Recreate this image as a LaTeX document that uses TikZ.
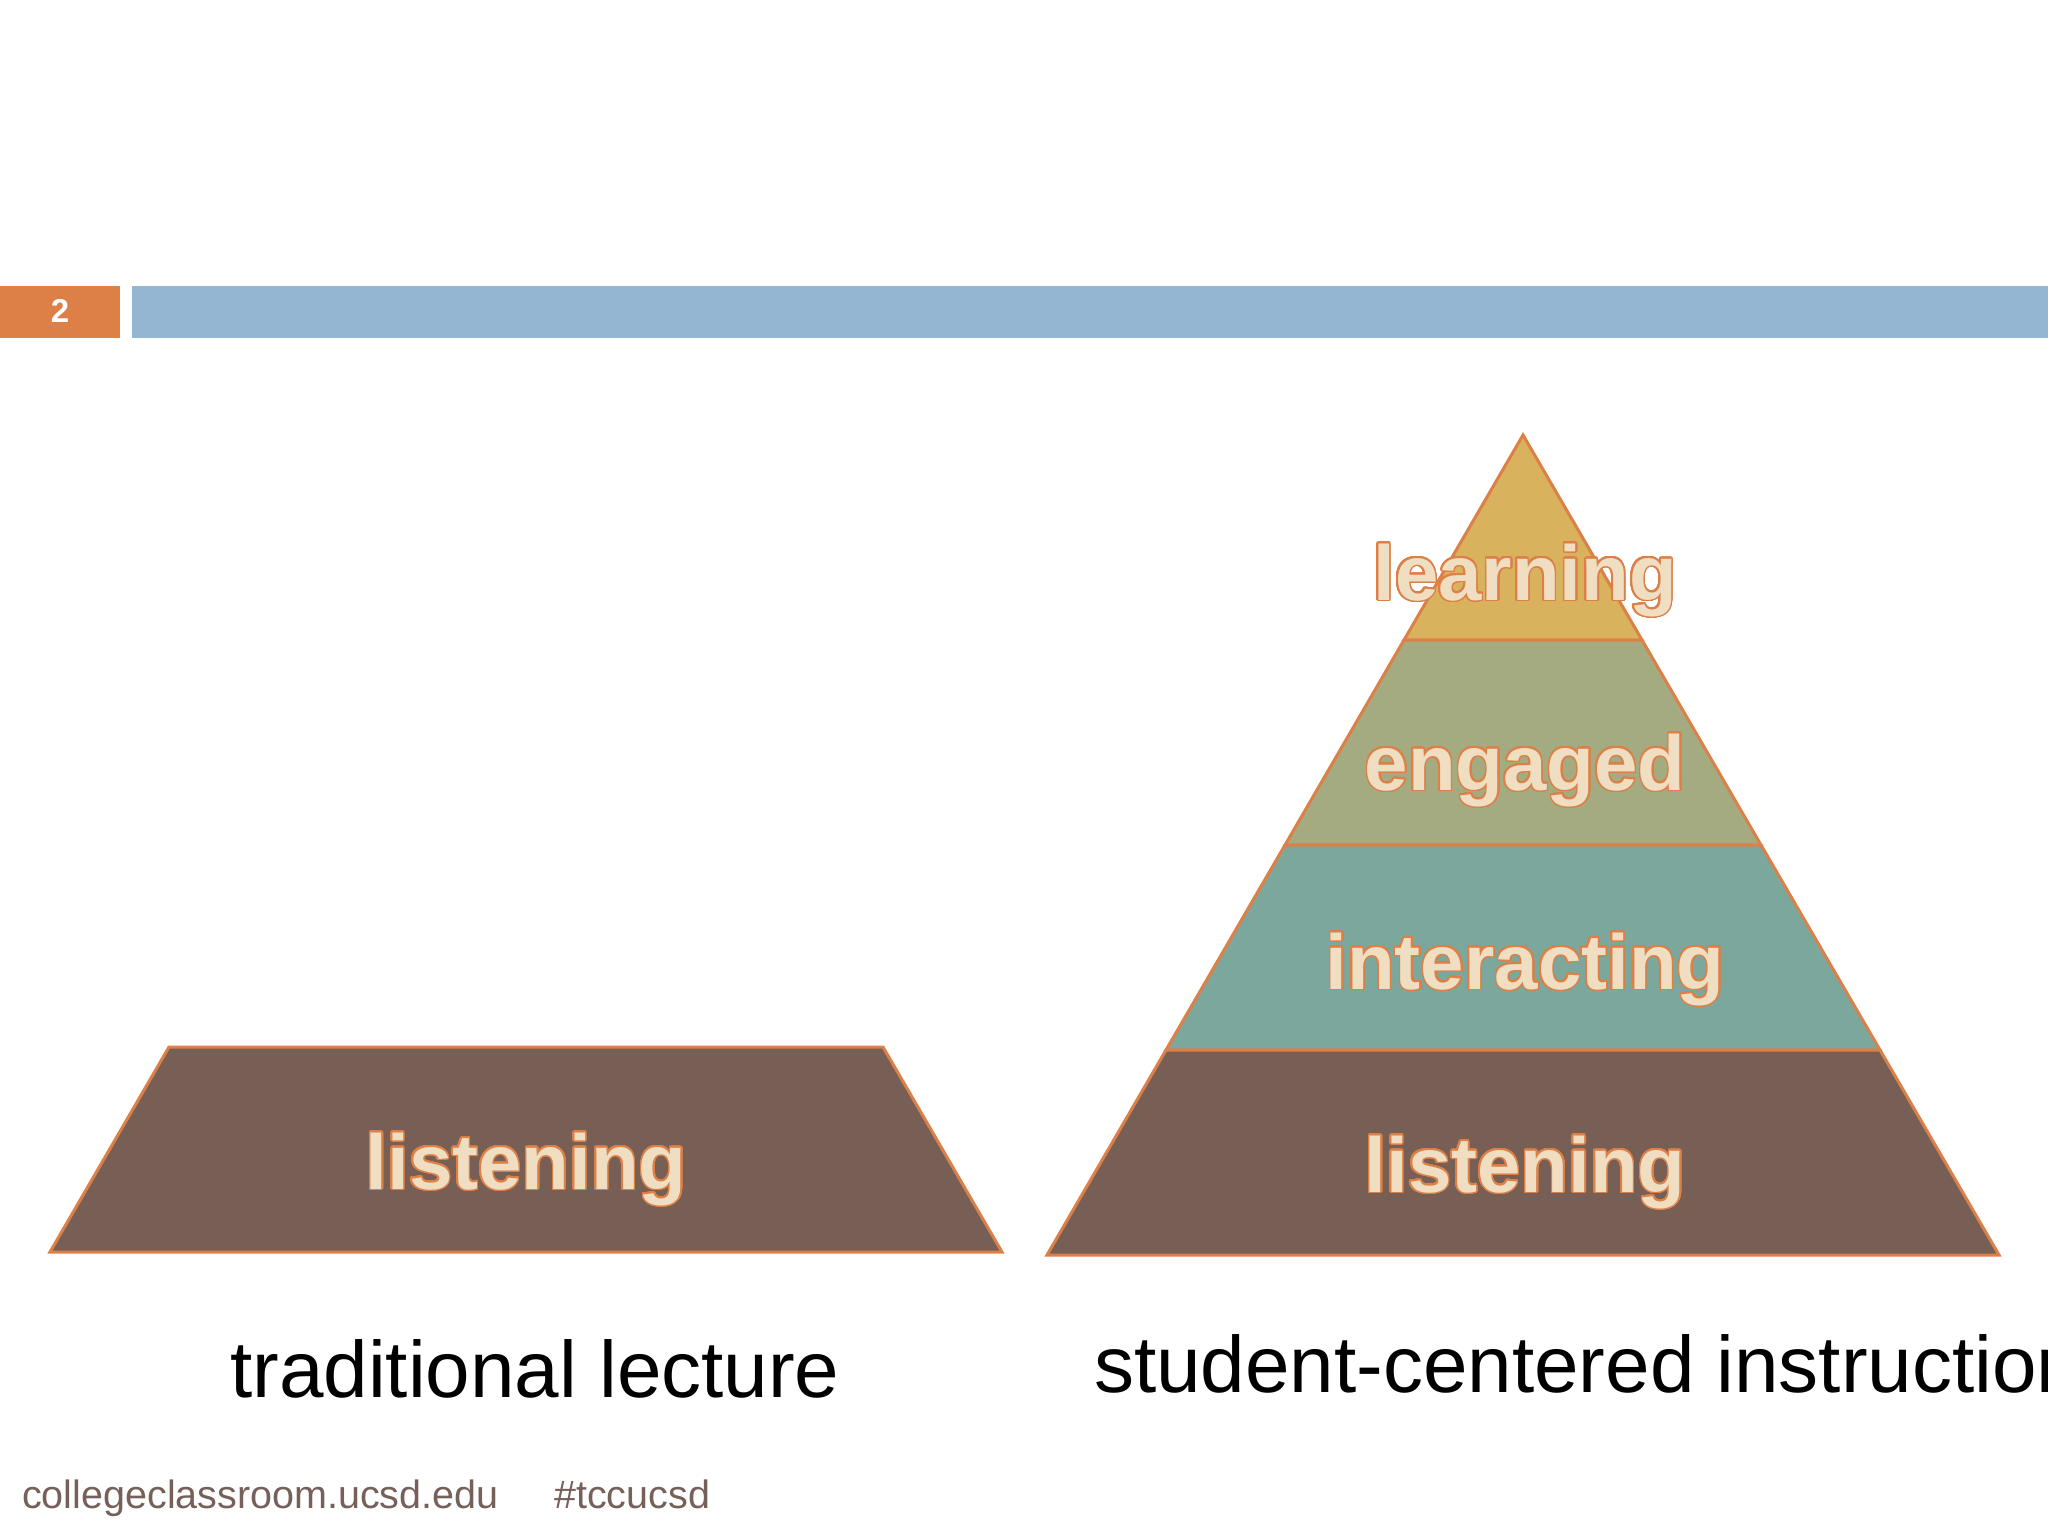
\documentclass[tikz,border=0pt]{standalone}
\usepackage{fontspec}
\setmainfont{Liberation Sans}
\usepackage{contour}
\usetikzlibrary{calc}

\definecolor{hdrorange}{HTML}{DD8047}
\definecolor{hdrblue}{HTML}{94B6D2}
\definecolor{gold}{HTML}{D8B25C}
\definecolor{sage}{HTML}{A5AB81}
\definecolor{seateal}{HTML}{7BA79D}
\definecolor{umber}{HTML}{775F55}
\definecolor{cream}{HTML}{F0DEC2}
\definecolor{footgray}{HTML}{75605A}

\contourlength{1.6pt}
\contournumber{32}

\begin{document}
\begin{tikzpicture}[
    x=1pt, y=-1pt,
    layer/.style={draw=hdrorange, line width=3pt, line join=miter},
    word/.style={
        anchor=base, inner sep=0pt, text=cream,
        font=\bfseries\fontsize{78}{90}\selectfont,
    },
    caption/.style={anchor=base, inner sep=0pt, font=\fontsize{80}{96}\selectfont},
    foot/.style={anchor=base west, inner sep=0pt, text=footgray,
        font=\fontsize{39.5}{46}\selectfont},
]

\clip (0,0) rectangle (2048,1536);
\fill[white] (0,0) rectangle (2048,1536);

% header bar
\fill[hdrorange] (0,286) rectangle (120,338);
\fill[hdrblue] (132,286) rectangle (2048,338);
\node[anchor=base, inner sep=0pt, text=white, font=\bfseries\fontsize{33}{40}\selectfont] (num) at (60,322) {2};

% student-centered pyramid
\coordinate (apex) at (1523,435);
\coordinate (bl) at (1047,1255);
\coordinate (br) at (1999,1255);

\foreach \a/\b/\col in {0/0.25/gold, 0.25/0.5/sage, 0.5/0.75/seateal, 0.75/1/umber}
    \draw[layer, fill=\col] ($(apex)!\a!(bl)$) -- ($(apex)!\b!(bl)$)
        -- ($(apex)!\b!(br)$) -- ($(apex)!\a!(br)$) -- cycle;

\node[word] (wLearn) at (1525,600) {\contour{hdrorange}{learning}};
\node[word] (wEngage) at (1525,790) {\contour{hdrorange}{engaged}};
\node[word] (wInteract) at (1525,989) {\contour{hdrorange}{interacting}};
\node[word] (wListenR) at (1525,1192) {\contour{hdrorange}{listening}};

% traditional lecture block
\draw[layer, fill=umber] (169,1047) -- (883,1047) -- (1002,1252) -- (50,1252) -- cycle;
\node[word] (wListenL) at (526,1189) {\contour{hdrorange}{listening}};

% captions
\node[caption] (capL) at (535,1397) {traditional lecture};
\node[caption, anchor=base west] (capR) at (1094,1392) {student-centered instruction};

% footer
\node[foot] (site) at (22,1508) {collegeclassroom.ucsd.edu};
\node[foot] (tag) at (554,1508) {\#tccucsd};

\end{tikzpicture}
\end{document}
